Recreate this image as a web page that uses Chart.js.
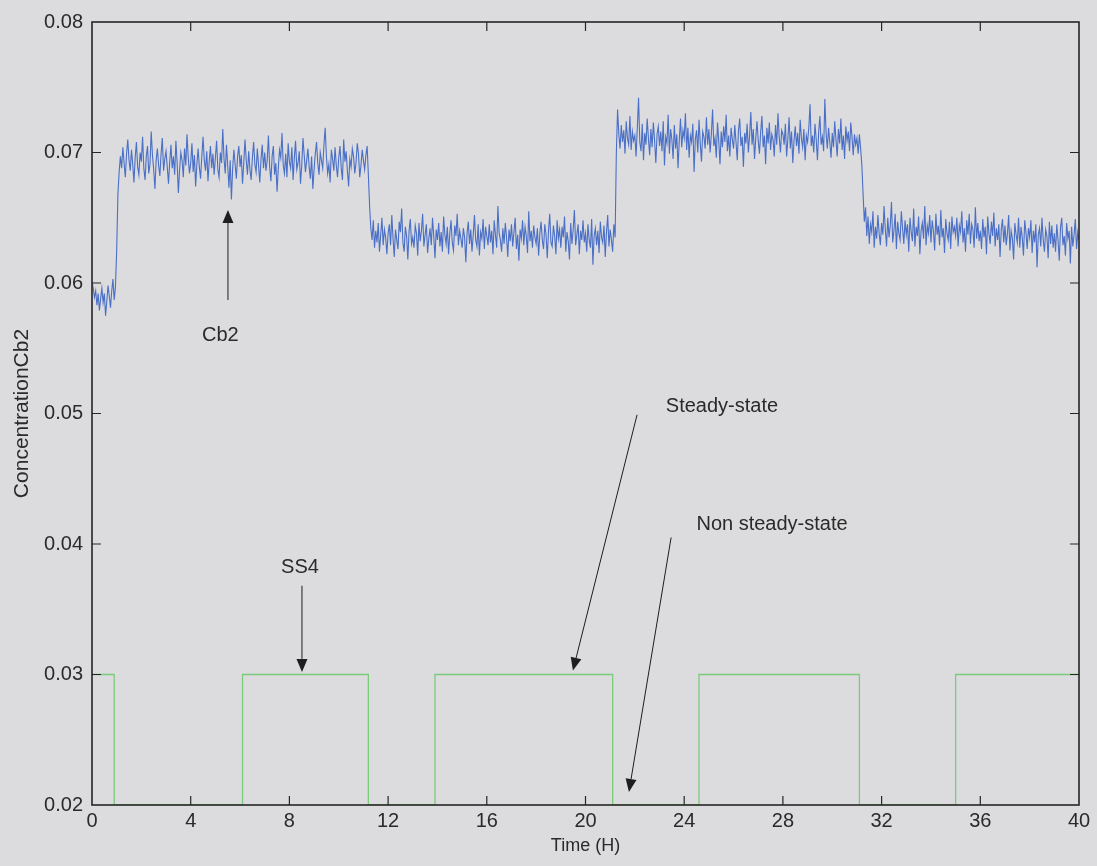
<!DOCTYPE html>
<html>
<head>
<meta charset="utf-8">
<title>Concentration Cb2</title>
<script src="https://cdn.jsdelivr.net/npm/chart.js@4.4.1/dist/chart.umd.min.js"></script>
<style>
  html, body { margin: 0; padding: 0; background: #dcdcde; }
</style>
</head>
<body>
<canvas id="cb2" width="1097" height="866"></canvas>
<script>
// logging interval of the Cb2 signal (hours)
const sampleStep = 0.05;

// Cb2 concentration, one row per hour (20 samples), last value is t = 40
const cb2Values = [
  0.0601, 0.0596, 0.0589, 0.0594, 0.0583, 0.0592, 0.0579, 0.0588, 0.0596, 0.0585, 0.0592, 0.0575, 0.0586, 0.0598, 0.0590, 0.0581, 0.0594, 0.0603, 0.0587, 0.0597,
  0.0625, 0.0668, 0.0685, 0.0697, 0.0688, 0.0704, 0.0692, 0.0681, 0.0699, 0.0710, 0.0694, 0.0686, 0.0702, 0.0691, 0.0677, 0.0696, 0.0708, 0.0689, 0.0683, 0.0700,
  0.0693, 0.0712, 0.0688, 0.0679, 0.0697, 0.0705, 0.0684, 0.0691, 0.0716, 0.0698, 0.0687, 0.0672, 0.0694, 0.0703, 0.0690, 0.0682, 0.0699, 0.0711, 0.0686, 0.0695,
  0.0701, 0.0689, 0.0676, 0.0693, 0.0706, 0.0688, 0.0697, 0.0683, 0.0709, 0.0692, 0.0669, 0.0687, 0.0700, 0.0694, 0.0681, 0.0703, 0.0690, 0.0714, 0.0696, 0.0684,
  0.0692, 0.0707, 0.0685, 0.0698, 0.0674, 0.0691, 0.0703, 0.0689, 0.0680, 0.0697, 0.0712, 0.0694, 0.0686, 0.0701, 0.0678, 0.0693, 0.0705, 0.0688, 0.0699, 0.0683,
  0.0696, 0.0709, 0.0687, 0.0681, 0.0700, 0.0692, 0.0718, 0.0695, 0.0684, 0.0706, 0.0690, 0.0673, 0.0694, 0.0664, 0.0688, 0.0702, 0.0691, 0.0680, 0.0697, 0.0705,
  0.0689, 0.0698, 0.0676, 0.0692, 0.0710, 0.0694, 0.0683, 0.0701, 0.0687, 0.0679, 0.0696, 0.0708, 0.0691, 0.0685, 0.0703, 0.0690, 0.0677, 0.0695, 0.0706, 0.0688,
  0.0700, 0.0686, 0.0694, 0.0713, 0.0689, 0.0678, 0.0697, 0.0705, 0.0683, 0.0692, 0.0670, 0.0688, 0.0702, 0.0696, 0.0715, 0.0690, 0.0684, 0.0699, 0.0681, 0.0707,
  0.0693, 0.0688, 0.0704, 0.0679, 0.0696, 0.0709, 0.0687, 0.0692, 0.0701, 0.0676, 0.0690, 0.0711, 0.0698, 0.0685, 0.0694, 0.0703, 0.0689, 0.0680, 0.0697, 0.0672,
  0.0687, 0.0699, 0.0708, 0.0692, 0.0683, 0.0700, 0.0694, 0.0688, 0.0706, 0.0719, 0.0697, 0.0684, 0.0691, 0.0677, 0.0702, 0.0695, 0.0686, 0.0704, 0.0690, 0.0681,
  0.0696, 0.0705, 0.0688, 0.0679, 0.0710, 0.0693, 0.0701, 0.0686, 0.0674, 0.0695, 0.0689, 0.0703, 0.0697, 0.0684, 0.0692, 0.0707, 0.0699, 0.0681, 0.0690, 0.0702,
  0.0694, 0.0687, 0.0698, 0.0705, 0.0683, 0.0659, 0.0642, 0.0633, 0.0648, 0.0627, 0.0640, 0.0631, 0.0646, 0.0624, 0.0637, 0.0650, 0.0629, 0.0641, 0.0635, 0.0622,
  0.0638, 0.0645, 0.0629, 0.0652, 0.0634, 0.0620, 0.0641, 0.0633, 0.0626, 0.0647, 0.0639, 0.0657, 0.0631, 0.0624, 0.0643, 0.0636, 0.0618, 0.0640, 0.0649, 0.0630,
  0.0635, 0.0627, 0.0644, 0.0638, 0.0621, 0.0646, 0.0632, 0.0640, 0.0653, 0.0628, 0.0637, 0.0645, 0.0623, 0.0634, 0.0642, 0.0629, 0.0650, 0.0636, 0.0619, 0.0641,
  0.0633, 0.0646, 0.0628, 0.0639, 0.0624, 0.0651, 0.0637, 0.0630, 0.0643, 0.0622, 0.0638, 0.0648, 0.0631, 0.0625, 0.0644, 0.0636, 0.0653, 0.0629, 0.0640, 0.0634,
  0.0627, 0.0642, 0.0635, 0.0616, 0.0638, 0.0647, 0.0630, 0.0641, 0.0624, 0.0637, 0.0652, 0.0633, 0.0628, 0.0645, 0.0621, 0.0639, 0.0634, 0.0649, 0.0626, 0.0643,
  0.0636, 0.0629, 0.0645, 0.0631, 0.0640, 0.0622, 0.0648, 0.0637, 0.0627, 0.0659, 0.0638, 0.0633, 0.0624, 0.0642, 0.0630, 0.0646, 0.0635, 0.0620, 0.0641, 0.0632,
  0.0645, 0.0628, 0.0639, 0.0650, 0.0626, 0.0637, 0.0617, 0.0641, 0.0634, 0.0648, 0.0629, 0.0643, 0.0636, 0.0623, 0.0655, 0.0632, 0.0640, 0.0627, 0.0644, 0.0635,
  0.0630, 0.0642, 0.0621, 0.0638, 0.0647, 0.0633, 0.0626, 0.0645, 0.0637, 0.0619, 0.0640, 0.0653, 0.0631, 0.0628, 0.0644, 0.0636, 0.0622, 0.0648, 0.0634, 0.0641,
  0.0627, 0.0643, 0.0635, 0.0651, 0.0624, 0.0639, 0.0632, 0.0618, 0.0646, 0.0630, 0.0641, 0.0656, 0.0629, 0.0637, 0.0645, 0.0622, 0.0640, 0.0633, 0.0648, 0.0631,
  0.0638, 0.0624, 0.0645, 0.0633, 0.0627, 0.0649, 0.0614, 0.0636, 0.0642, 0.0629, 0.0640, 0.0623, 0.0647, 0.0635, 0.0631, 0.0644, 0.0620, 0.0639, 0.0652, 0.0628,
  0.0641, 0.0633, 0.0624, 0.0645, 0.0635, 0.0700, 0.0733, 0.0714, 0.0703, 0.0721, 0.0708, 0.0717, 0.0699, 0.0724, 0.0711, 0.0706, 0.0728, 0.0702, 0.0716, 0.0709,
  0.0713, 0.0697, 0.0719, 0.0742, 0.0708, 0.0701, 0.0722, 0.0694, 0.0715, 0.0706, 0.0726, 0.0711, 0.0698, 0.0718, 0.0704, 0.0723, 0.0709, 0.0692, 0.0714, 0.0720,
  0.0705, 0.0716, 0.0701, 0.0724, 0.0690, 0.0712, 0.0707, 0.0729, 0.0699, 0.0718, 0.0710, 0.0695, 0.0721, 0.0703, 0.0714, 0.0688, 0.0709, 0.0726, 0.0704, 0.0717,
  0.0711, 0.0730, 0.0702, 0.0719, 0.0696, 0.0713, 0.0708, 0.0722, 0.0685, 0.0710, 0.0717, 0.0700, 0.0725, 0.0707, 0.0693, 0.0716, 0.0712, 0.0703, 0.0727, 0.0706,
  0.0718, 0.0700, 0.0714, 0.0733, 0.0705, 0.0711, 0.0696, 0.0723, 0.0709, 0.0691, 0.0716, 0.0704, 0.0720, 0.0708, 0.0729, 0.0701, 0.0713, 0.0697, 0.0719, 0.0710,
  0.0703, 0.0721, 0.0708, 0.0694, 0.0717, 0.0726, 0.0705, 0.0712, 0.0689, 0.0715, 0.0707, 0.0722, 0.0700, 0.0713, 0.0731, 0.0706, 0.0718, 0.0695, 0.0711, 0.0724,
  0.0709, 0.0699, 0.0716, 0.0728, 0.0704, 0.0713, 0.0691, 0.0719, 0.0707, 0.0723, 0.0702, 0.0714, 0.0710, 0.0697, 0.0721, 0.0706, 0.0730, 0.0712, 0.0700, 0.0717,
  0.0714, 0.0706, 0.0722, 0.0697, 0.0710, 0.0727, 0.0703, 0.0716, 0.0692, 0.0709, 0.0720, 0.0705, 0.0715, 0.0699, 0.0725, 0.0711, 0.0704, 0.0718, 0.0694, 0.0713,
  0.0708, 0.0719, 0.0737, 0.0705, 0.0713, 0.0700, 0.0722, 0.0710, 0.0694, 0.0716, 0.0728, 0.0706, 0.0712, 0.0701, 0.0741, 0.0715, 0.0703, 0.0719, 0.0708, 0.0696,
  0.0715, 0.0704, 0.0724, 0.0710, 0.0697, 0.0718, 0.0707, 0.0726, 0.0702, 0.0713, 0.0695, 0.0720, 0.0709, 0.0716, 0.0701, 0.0723, 0.0712, 0.0698, 0.0714, 0.0706,
  0.0711, 0.0699, 0.0714, 0.0703, 0.0690, 0.0668, 0.0647, 0.0658, 0.0636, 0.0651, 0.0630, 0.0645, 0.0639, 0.0655, 0.0627, 0.0643, 0.0634, 0.0652, 0.0638, 0.0629,
  0.0646, 0.0637, 0.0659, 0.0641, 0.0628, 0.0650, 0.0635, 0.0644, 0.0662, 0.0631, 0.0640, 0.0653, 0.0626, 0.0647, 0.0638, 0.0633, 0.0655, 0.0642, 0.0630, 0.0648,
  0.0637, 0.0645, 0.0624, 0.0650, 0.0639, 0.0632, 0.0657, 0.0628, 0.0643, 0.0636, 0.0651, 0.0622, 0.0640, 0.0646, 0.0634, 0.0659, 0.0629, 0.0644, 0.0638, 0.0652,
  0.0631, 0.0648, 0.0640, 0.0625, 0.0653, 0.0637, 0.0644, 0.0629, 0.0656, 0.0635, 0.0642, 0.0623, 0.0649, 0.0638, 0.0633, 0.0647, 0.0626, 0.0651, 0.0639, 0.0643,
  0.0636, 0.0650, 0.0628, 0.0644, 0.0639, 0.0655, 0.0631, 0.0642, 0.0624, 0.0648, 0.0637, 0.0653, 0.0630, 0.0645, 0.0641, 0.0627, 0.0658, 0.0634, 0.0646, 0.0632,
  0.0640, 0.0626, 0.0649, 0.0635, 0.0643, 0.0622, 0.0651, 0.0638, 0.0630, 0.0647, 0.0636, 0.0654, 0.0628, 0.0642, 0.0633, 0.0645, 0.0620, 0.0641, 0.0649, 0.0631,
  0.0644, 0.0629, 0.0638, 0.0652, 0.0625, 0.0640, 0.0634, 0.0618, 0.0646, 0.0637, 0.0631, 0.0650, 0.0627, 0.0643, 0.0635, 0.0621, 0.0648, 0.0639, 0.0626, 0.0642,
  0.0635, 0.0648, 0.0623, 0.0640, 0.0631, 0.0645, 0.0612, 0.0637, 0.0642, 0.0628, 0.0650, 0.0633, 0.0624, 0.0641, 0.0636, 0.0619, 0.0647, 0.0630, 0.0644, 0.0627,
  0.0638, 0.0624, 0.0645, 0.0633, 0.0617, 0.0642, 0.0650, 0.0629, 0.0636, 0.0621, 0.0646, 0.0634, 0.0640, 0.0615, 0.0643, 0.0628, 0.0637, 0.0649, 0.0626, 0.0639,
  0.0633
];

// steady-state flag: switching times (H) and the level held from each one
const ssTimes  = [0,    0.9,  6.1,  11.2, 13.9, 21.1, 24.6, 31.1, 35.0, 40];
const ssLevels = [0.03, 0.02, 0.03, 0.02, 0.03, 0.02, 0.03, 0.02, 0.03, 0.03];

const xTicks = [0, 4, 8, 12, 16, 20, 24, 28, 32, 36, 40];
const yTicks = [0.02, 0.03, 0.04, 0.05, 0.06, 0.07, 0.08];

// text labels with arrows, in data coordinates
const notes = [
  { text: 'Cb2',              at: [5.20, 0.0560],  from: [5.51, 0.0587],  to: [5.51, 0.0656] },
  { text: 'SS4',              at: [8.43, 0.0382],  from: [8.51, 0.0368],  to: [8.51, 0.0302] },
  { text: 'Steady-state',     at: [25.53, 0.0505], from: [22.09, 0.0499], to: [19.49, 0.0303] },
  { text: 'Non steady-state', at: [27.56, 0.0415], from: [23.47, 0.0405], to: [21.76, 0.0210] }
];

const FONT = '"Liberation Sans", Arial, Helvetica, sans-serif';
const INK = '#2a2a2a';

const cb2Points = cb2Values.map((v, i) => ({ x: +(i * sampleStep).toFixed(2), y: v }));
const ssPoints = ssTimes.map((t, i) => ({ x: t, y: ssLevels[i] }));

// paper background
const paper = {
  id: 'paper',
  beforeDraw(chart) {
    const c = chart.ctx;
    c.save();
    c.fillStyle = '#dcdcde';
    c.fillRect(0, 0, chart.width, chart.height);
    c.restore();
  }
};

// box around the axes with inward tick marks on all four sides
const frame = {
  id: 'frame',
  afterDraw(chart) {
    const { ctx, chartArea: a, scales: { x, y } } = chart;
    const len = 9;
    ctx.save();
    ctx.strokeStyle = '#262626';
    ctx.lineWidth = 1.6;
    ctx.strokeRect(a.left, a.top, a.right - a.left, a.bottom - a.top);
    ctx.lineWidth = 1.2;
    ctx.beginPath();
    xTicks.slice(1, -1).forEach(v => {
      const px = x.getPixelForValue(v);
      ctx.moveTo(px, a.bottom); ctx.lineTo(px, a.bottom - len);
      ctx.moveTo(px, a.top);    ctx.lineTo(px, a.top + len);
    });
    yTicks.slice(1, -1).forEach(v => {
      const py = y.getPixelForValue(v);
      ctx.moveTo(a.left, py);  ctx.lineTo(a.left + len, py);
      ctx.moveTo(a.right, py); ctx.lineTo(a.right - len, py);
    });
    ctx.stroke();
    ctx.restore();
  }
};

// annotations: label + line ending in a filled arrowhead
const arrows = {
  id: 'arrows',
  afterDraw(chart) {
    const { ctx, scales: { x, y } } = chart;
    ctx.save();
    ctx.lineWidth = 1;
    notes.forEach(n => {
      const x0 = x.getPixelForValue(n.from[0]), y0 = y.getPixelForValue(n.from[1]);
      const x1 = x.getPixelForValue(n.to[0]),   y1 = y.getPixelForValue(n.to[1]);
      const ang = Math.atan2(y1 - y0, x1 - x0);
      const head = 13, half = 5.5;
      const bx = x1 - head * Math.cos(ang), by = y1 - head * Math.sin(ang);
      ctx.strokeStyle = '#1e1e1e';
      ctx.fillStyle = '#1e1e1e';
      ctx.beginPath();
      ctx.moveTo(x0, y0);
      ctx.lineTo(bx, by);
      ctx.stroke();
      ctx.beginPath();
      ctx.moveTo(x1, y1);
      ctx.lineTo(bx + half * Math.sin(ang), by - half * Math.cos(ang));
      ctx.lineTo(bx - half * Math.sin(ang), by + half * Math.cos(ang));
      ctx.closePath();
      ctx.fill();

      ctx.fillStyle = INK;
      ctx.font = '20px ' + FONT;
      ctx.textAlign = 'center';
      ctx.textBaseline = 'middle';
      ctx.fillText(n.text, x.getPixelForValue(n.at[0]), y.getPixelForValue(n.at[1]));
    });
    ctx.restore();
  }
};

new Chart(document.getElementById('cb2'), {
  type: 'line',
  data: {
    datasets: [
      {
        label: 'Cb2',
        data: cb2Points,
        borderColor: '#4a6fc6',
        borderWidth: 1.1,
        pointRadius: 0,
        tension: 0
      },
      {
        label: 'SS4',
        data: ssPoints,
        borderColor: '#7acb7a',
        borderWidth: 1.3,
        pointRadius: 0,
        stepped: 'before'
      }
    ]
  },
  options: {
    responsive: false,
    animation: false,
    layout: { padding: { left: 0, right: 18, top: 22, bottom: 0 } },
    plugins: {
      legend: { display: false },
      tooltip: { enabled: false }
    },
    scales: {
      x: {
        type: 'linear',
        min: 0,
        max: 40,
        afterFit: s => { s.height = 61; },
        afterBuildTicks: s => { s.ticks = xTicks.map(v => ({ value: v })); },
        grid: { display: false, drawTicks: false },
        border: { display: false },
        ticks: {
          color: INK,
          padding: 4,
          maxRotation: 0,
          autoSkip: false,
          font: { family: FONT, size: 20 }
        },
        title: {
          display: true,
          text: 'Time (H)',
          color: INK,
          padding: { top: 0, bottom: 9 },
          font: { family: FONT, size: 18 }
        }
      },
      y: {
        min: 0.02,
        max: 0.08,
        afterFit: s => { s.width = 92; },
        afterBuildTicks: s => { s.ticks = yTicks.map(v => ({ value: v })); },
        grid: { display: false, drawTicks: false },
        border: { display: false },
        ticks: {
          color: INK,
          padding: 9,
          autoSkip: false,
          font: { family: FONT, size: 20 },
          callback: v => v.toFixed(2)
        },
        title: {
          display: true,
          text: 'ConcentrationCb2',
          color: INK,
          padding: { top: 10, bottom: 0 },
          font: { family: FONT, size: 21 }
        }
      }
    }
  },
  plugins: [paper, frame, arrows]
});
</script>
</body>
</html>
